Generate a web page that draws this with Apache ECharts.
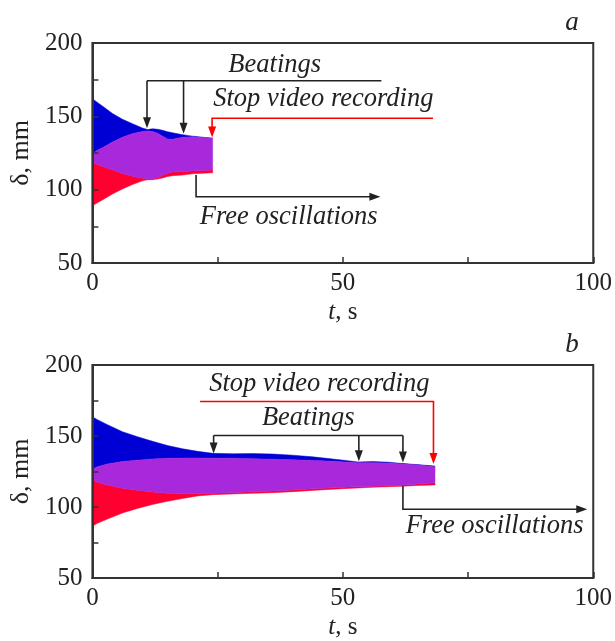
<!DOCTYPE html>
<html><head><meta charset="utf-8">
<script src="https://cdn.jsdelivr.net/npm/echarts@6/dist/echarts.min.js"></script>
<style>html,body{margin:0;padding:0;background:#fff}#c{width:615px;height:641px}</style>
</head><body><div id="c"></div>
<script>
// ---- Panel a data (time in s, displacement in mm) ----
const tA         = [0,   1,     2,     4,     6,     8,     10,    11,    12,    13,    14,    15,    16,    18,    20,    22,    24];
const blueTopA   = [162, 159.5, 157,   152,   148,   145,   142,   141,   141.5, 141.2, 140.5, 139.5, 138.8, 137.5, 136.5, 135.8, 135];
const purpleTopA = [124.5, 126.8, 128.5, 132.5, 135.8, 138.2, 139.6, 140, 139.6, 138.5, 136.5, 134.5, 134.3, 135.8, 136,   135.5, 135];
const purpleBotA = [118.5, 117.2, 116, 113.5, 111,   109.2, 107.8, 107.2, 107.3, 108.2, 109.8, 111.2, 112,   112.4, 112.8, 113,   113.4];
const redBotA    = [89,  91,    93,    97,    100.5, 103.5, 106,   106.8, 106.8, 107.2, 108,   109,   109.5, 110,   110.8, 111.2, 111.5];

// ---- Panel b data ----
const tB         = [0,    1,     3,     6,     9,     12,    15,    18,    21,    24,    28,    32,    36,    40,    44,    48,    51,    53,    56,    59,    62,    65,    68.4];
const blueTopB   = [163.5,161.5, 158,   153,   149.5, 146.3, 143.3, 141,   139.2, 137.8, 137.5, 137.6, 137.3, 136.5, 135.3, 133.8, 132.6, 131.7, 132,   131.6, 130.6, 129.8, 128.8];
const purpleTopB = [126.5,128.3, 130.3, 132,   133,   133.8, 134.3, 134.5, 134.5, 134.4, 134.3, 134,   133.6, 133.2, 132.8, 132.2, 131.6, 131.2, 131.2, 130.9, 130.3, 129.6, 128.4];
const purpleBotB = [119.5,117.5, 115.5, 113.2, 111.8, 110.6, 109.6, 109.3, 109.4, 109.7, 110.2, 110.7, 111.3, 112,   112.8, 113.5, 114,   114.2, 114.6, 115,   115.3, 116.2, 117];
const redBotB    = [86.5, 88.5,  91.5,  95.8,  99,    101.8, 104,   106,   107.8, 108.7, 109.2, 109.6, 110.1, 110.8, 111.7, 112.5, 113.1, 113.4, 113.9, 114.3, 114.6, 115.2, 115.5];

// ---- axis ticks / labels ----
const xTicks = [0, 50, 100];
const yTicks = [50, 100, 150, 200];
const panelLetters = ['a', 'b'];
const xName = 't';
const yName = 'δ, mm';

const BLUE = '#0000D4', RED = '#FF0030', PURPLE = '#A828DC', INK = '#222', FRAME = '#333';
const FONT = '"Liberation Serif", "Times New Roman", serif';

const chart = echarts.init(document.getElementById('c'), null, {renderer: 'canvas'});

// a band between lower and upper curves, drawn as one polygon through the axis scales
function band(idx, t, lo, hi, color) {
  return {
    type: 'custom', xAxisIndex: idx, yAxisIndex: idx, silent: true, animation: false, z: 2,
    data: t.map((x, i) => [x, lo[i], hi[i]]),
    encode: {x: 0, y: [1, 2]},
    renderItem: function (params, api) {
      if (params.dataIndex !== 0) return null;
      const n = t.length, pts = [];
      for (let i = 0; i < n; i++) pts.push(api.coord([t[i], hi[i]]));
      for (let i = n - 1; i >= 0; i--) pts.push(api.coord([t[i], lo[i]]));
      return {type: 'polygon', shape: {points: pts}, style: {fill: color, stroke: color, lineWidth: 0.5, opacity: 1}};
    }
  };
}

const grids = [
  {left: 91, top: 43, width: 503, height: 220},
  {left: 91, top: 365, width: 503, height: 220}
];

function xAxis(idx) {
  return {
    gridIndex: idx, type: 'value', min: 0, max: 100, interval: 25, z: 10,
    axisLine: {show: true, lineStyle: {color: FRAME, width: 2}},
    axisTick: {show: true, inside: true, length: 6, lineStyle: {color: FRAME, width: 1.5}},
    axisLabel: {formatter: v => xTicks.includes(v) ? String(v) : '', fontFamily: FONT, fontSize: 25, color: INK, margin: 8, showMinLabel: true, showMaxLabel: true},
    splitLine: {show: false},
    name: '{i|' + xName + '}, s', nameLocation: 'middle', nameGap: 37,
    nameTextStyle: {fontFamily: FONT, fontSize: 25, color: INK, rich: {i: {fontStyle: 'italic', fontFamily: FONT, fontSize: 25, color: INK}}}
  };
}
function yAxis(idx) {
  return {
    gridIndex: idx, type: 'value', min: 50, max: 200, interval: 25, z: 10,
    axisLine: {show: true, lineStyle: {color: FRAME, width: 2}},
    axisTick: {show: true, inside: true, length: 6, lineStyle: {color: FRAME, width: 1.5}},
    axisLabel: {formatter: v => yTicks.includes(v) ? String(v) : '', fontFamily: FONT, fontSize: 25, color: INK, margin: 10, showMinLabel: true, showMaxLabel: true},
    splitLine: {show: false},
    name: yName, nameLocation: 'middle', nameGap: 52, nameRotate: 90,
    nameTextStyle: {fontFamily: FONT, fontSize: 26, color: INK}
  };
}

chart.setOption({
  animation: false,
  backgroundColor: '#fff',
  grid: grids.map(g => Object.assign({show: true, borderColor: FRAME, borderWidth: 2, backgroundColor: 'transparent'}, g)),
  xAxis: [xAxis(0), xAxis(1)],
  yAxis: [yAxis(0), yAxis(1)],
  series: [
    band(0, tA, purpleTopA, blueTopA, BLUE),
    band(0, tA, redBotA, purpleBotA, RED),
    band(0, tA, purpleBotA, purpleTopA, PURPLE),
    band(1, tB, purpleTopB, blueTopB, BLUE),
    band(1, tB, redBotB, purpleBotB, RED),
    band(1, tB, purpleBotB, purpleTopB, PURPLE)
  ]
});

// ---- annotations, in data coordinates [t, δ] ----
const annotations = [
  { grid: 0,
    texts: [
      {at: [36.4, 185], text: 'Beatings'},
      {at: [46.1, 161.8], text: 'Stop video recording'},
      {at: [39.2, 81.4], text: 'Free oscillations'}
    ],
    lines: [
      {pts: [[57.7, 174.3], [10.9, 174.3]], color: INK, arrow: false},
      {pts: [[10.9, 174.3], [10.9, 141.8]], color: INK, arrow: true},
      {pts: [[18.2, 174.3], [18.2, 138.2]], color: INK, arrow: true},
      {pts: [[68, 148.7], [23.9, 148.7], [23.9, 135.6]], color: '#FF0000', arrow: true},
      {pts: [[20.7, 110], [20.7, 95.2], [57.5, 95.2]], color: INK, arrow: true}
    ]
  },
  { grid: 1,
    texts: [
      {at: [45.3, 186.4], text: 'Stop video recording'},
      {at: [43.1, 162.5], text: 'Beatings'},
      {at: [80.3, 86.8], text: 'Free oscillations'}
    ],
    lines: [
      {pts: [[21.5, 174.3], [68.1, 174.3], [68.1, 130.2]], color: '#FF0000', arrow: true},
      {pts: [[24.2, 150.4], [62, 150.4]], color: INK, arrow: false},
      {pts: [[24.2, 150.4], [24.2, 137.6]], color: INK, arrow: true},
      {pts: [[53.2, 150.4], [53.2, 132.2]], color: INK, arrow: true},
      {pts: [[62, 150.4], [62, 131.4]], color: INK, arrow: true},
      {pts: [[62, 115], [62, 98.4], [98.8, 98.4]], color: INK, arrow: true}
    ]
  }
];

const elements = [];
annotations.forEach(a => {
  const px = p => chart.convertToPixel({gridIndex: a.grid}, p);
  a.lines.forEach(l => {
    const P = l.pts.map(px);
    const n = P.length;
    const q = P[n - 1], p0 = P[n - 2];
    const dx = q[0] - p0[0], dy = q[1] - p0[1];
    const len = Math.hypot(dx, dy) || 1;
    const ux = dx / len, uy = dy / len;
    const AL = 11, AW = 4;
    const lineP = P.slice();
    if (l.arrow) lineP[n - 1] = [q[0] - ux * (AL - 2), q[1] - uy * (AL - 2)];
    elements.push({type: 'polyline', z: 20, silent: true, shape: {points: lineP}, style: {stroke: l.color, lineWidth: 1.6, fill: null}});
    if (l.arrow) {
      const bx = q[0] - ux * AL, by = q[1] - uy * AL;
      elements.push({type: 'polygon', z: 20, silent: true,
        shape: {points: [q, [bx - uy * AW, by + ux * AW], [bx + uy * AW, by - ux * AW]]},
        style: {fill: l.color, stroke: null}});
    }
  });
  a.texts.forEach(tx => {
    const p = px(tx.at);
    elements.push({type: 'text', z: 20, silent: true, x: p[0], y: p[1],
      style: {text: tx.text, align: 'center', verticalAlign: 'middle', fill: INK, font: 'italic 26.5px ' + FONT}});
  });
});
grids.forEach((g, i) => {
  elements.push({type: 'text', z: 20, silent: true, x: g.left + g.width - 22, y: g.top - 20,
    style: {text: panelLetters[i], align: 'center', verticalAlign: 'middle', fill: INK, font: 'italic 27px ' + FONT}});
});
chart.setOption({graphic: {elements: elements}});
</script>
</body></html>
